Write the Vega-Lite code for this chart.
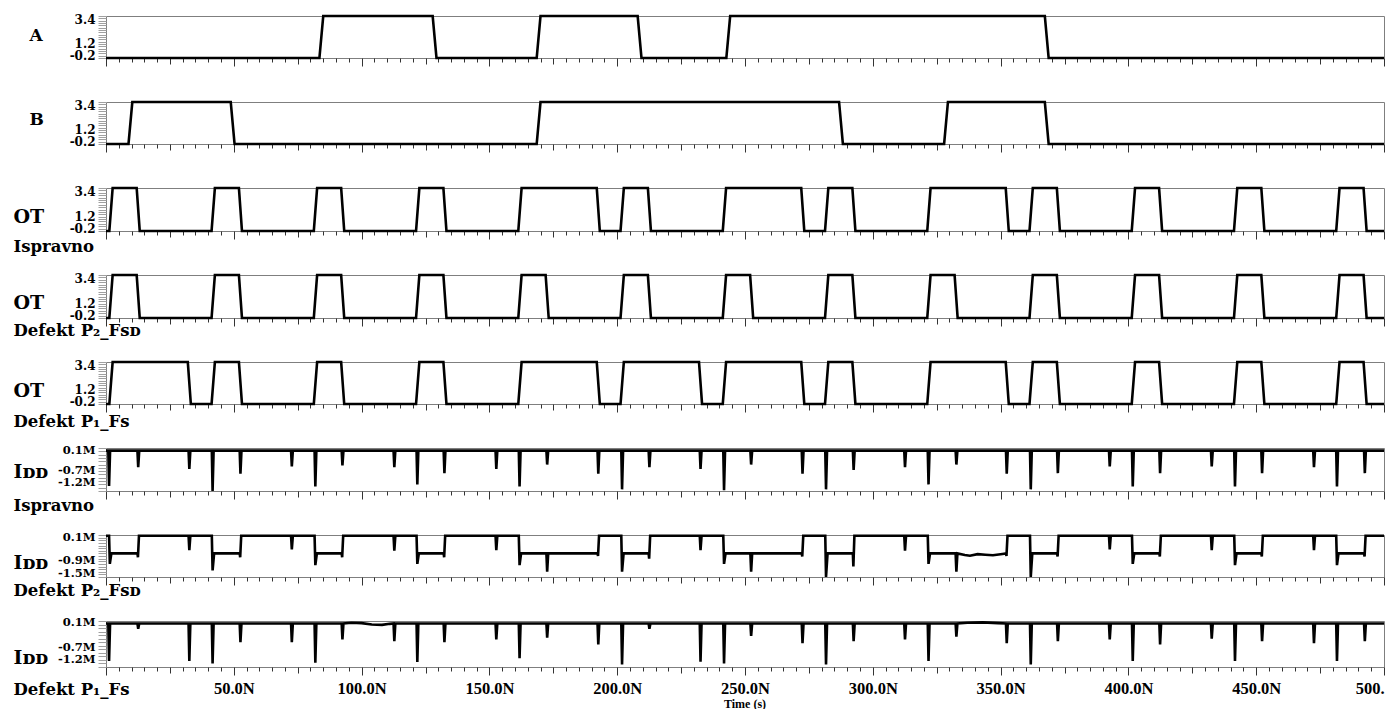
{
  "$schema": "https://vega.github.io/schema/vega-lite/v6.json",
  "padding": {"left": 12, "top": 10, "right": 5, "bottom": 0},
  "bounds": "flush",
  "spacing": 44,
  "title": {"text": "Time (s)", "orient": "bottom", "anchor": "middle", "frame": "group", "font": "Liberation Serif", "fontWeight": "bold", "fontSize": 12, "offset": 1, "color": "#000"},
  "datasets": {
    "A": [{"t":0,"v":-0.2},{"t":83.5,"v":-0.2},{"t":85,"v":3.4},{"t":127.8,"v":3.4},{"t":129.3,"v":-0.2},{"t":168.5,"v":-0.2},{"t":170,"v":3.4},{"t":208,"v":3.4},{"t":209.5,"v":-0.2},{"t":242.7,"v":-0.2},{"t":244.2,"v":3.4},{"t":367.3,"v":3.4},{"t":368.8,"v":-0.2},{"t":500,"v":-0.2}],
    "B": [{"t":0,"v":-0.2},{"t":8.8,"v":-0.2},{"t":10.3,"v":3.4},{"t":48.8,"v":3.4},{"t":50.3,"v":-0.2},{"t":168.5,"v":-0.2},{"t":170,"v":3.4},{"t":286.8,"v":3.4},{"t":288.3,"v":-0.2},{"t":327.9,"v":-0.2},{"t":329.4,"v":3.4},{"t":367.3,"v":3.4},{"t":368.8,"v":-0.2},{"t":500,"v":-0.2}],
    "OT1": [{"t":0,"v":-0.2},{"t":1.3,"v":-0.2},{"t":2.6,"v":3.4},{"t":12,"v":3.4},{"t":13.2,"v":-0.2},
      {"t":41.3,"v":-0.2},{"t":42.6,"v":3.4},{"t":52,"v":3.4},{"t":53.2,"v":-0.2},
      {"t":81.3,"v":-0.2},{"t":82.6,"v":3.4},{"t":92,"v":3.4},{"t":93.2,"v":-0.2},
      {"t":121.3,"v":-0.2},{"t":122.6,"v":3.4},{"t":132,"v":3.4},{"t":133.2,"v":-0.2},
      {"t":161.3,"v":-0.2},{"t":162.6,"v":3.4},{"t":192,"v":3.4},{"t":193.2,"v":-0.2},
      {"t":201.3,"v":-0.2},{"t":202.6,"v":3.4},{"t":212,"v":3.4},{"t":213.2,"v":-0.2},
      {"t":241.3,"v":-0.2},{"t":242.6,"v":3.4},{"t":272,"v":3.4},{"t":273.2,"v":-0.2},
      {"t":281.3,"v":-0.2},{"t":282.6,"v":3.4},{"t":292,"v":3.4},{"t":293.2,"v":-0.2},
      {"t":321.3,"v":-0.2},{"t":322.6,"v":3.4},{"t":352,"v":3.4},{"t":353.2,"v":-0.2},
      {"t":361.3,"v":-0.2},{"t":362.6,"v":3.4},{"t":372,"v":3.4},{"t":373.2,"v":-0.2},
      {"t":401.3,"v":-0.2},{"t":402.6,"v":3.4},{"t":412,"v":3.4},{"t":413.2,"v":-0.2},
      {"t":441.3,"v":-0.2},{"t":442.6,"v":3.4},{"t":452,"v":3.4},{"t":453.2,"v":-0.2},
      {"t":481.3,"v":-0.2},{"t":482.6,"v":3.4},{"t":492,"v":3.4},{"t":493.2,"v":-0.2},
      {"t":500,"v":-0.2}],
    "OT2": [{"t":0,"v":-0.2},{"t":1.3,"v":-0.2},{"t":2.6,"v":3.4},{"t":12,"v":3.4},{"t":13.2,"v":-0.2},
      {"t":41.3,"v":-0.2},{"t":42.6,"v":3.4},{"t":52,"v":3.4},{"t":53.2,"v":-0.2},
      {"t":81.3,"v":-0.2},{"t":82.6,"v":3.4},{"t":92,"v":3.4},{"t":93.2,"v":-0.2},
      {"t":121.3,"v":-0.2},{"t":122.6,"v":3.4},{"t":132,"v":3.4},{"t":133.2,"v":-0.2},
      {"t":161.3,"v":-0.2},{"t":162.6,"v":3.4},{"t":172,"v":3.4},{"t":173.2,"v":-0.2},
      {"t":201.3,"v":-0.2},{"t":202.6,"v":3.4},{"t":212,"v":3.4},{"t":213.2,"v":-0.2},
      {"t":241.3,"v":-0.2},{"t":242.6,"v":3.4},{"t":252,"v":3.4},{"t":253.2,"v":-0.2},
      {"t":281.3,"v":-0.2},{"t":282.6,"v":3.4},{"t":292,"v":3.4},{"t":293.2,"v":-0.2},
      {"t":321.3,"v":-0.2},{"t":322.6,"v":3.4},{"t":332,"v":3.4},{"t":333.2,"v":-0.2},
      {"t":361.3,"v":-0.2},{"t":362.6,"v":3.4},{"t":372,"v":3.4},{"t":373.2,"v":-0.2},
      {"t":401.3,"v":-0.2},{"t":402.6,"v":3.4},{"t":412,"v":3.4},{"t":413.2,"v":-0.2},
      {"t":441.3,"v":-0.2},{"t":442.6,"v":3.4},{"t":452,"v":3.4},{"t":453.2,"v":-0.2},
      {"t":481.3,"v":-0.2},{"t":482.6,"v":3.4},{"t":492,"v":3.4},{"t":493.2,"v":-0.2},
      {"t":500,"v":-0.2}],
    "OT3": [{"t":0,"v":-0.2},{"t":1.3,"v":-0.2},{"t":2.6,"v":3.4},{"t":32,"v":3.4},{"t":33.2,"v":-0.2},
      {"t":41.3,"v":-0.2},{"t":42.6,"v":3.4},{"t":52,"v":3.4},{"t":53.2,"v":-0.2},
      {"t":81.3,"v":-0.2},{"t":82.6,"v":3.4},{"t":92,"v":3.4},{"t":93.2,"v":-0.2},
      {"t":121.3,"v":-0.2},{"t":122.6,"v":3.4},{"t":132,"v":3.4},{"t":133.2,"v":-0.2},
      {"t":161.3,"v":-0.2},{"t":162.6,"v":3.4},{"t":192,"v":3.4},{"t":193.2,"v":-0.2},
      {"t":201.3,"v":-0.2},{"t":202.6,"v":3.4},{"t":232,"v":3.4},{"t":233.2,"v":-0.2},
      {"t":241.3,"v":-0.2},{"t":242.6,"v":3.4},{"t":272,"v":3.4},{"t":273.2,"v":-0.2},
      {"t":281.3,"v":-0.2},{"t":282.6,"v":3.4},{"t":292,"v":3.4},{"t":293.2,"v":-0.2},
      {"t":321.3,"v":-0.2},{"t":322.6,"v":3.4},{"t":352,"v":3.4},{"t":353.2,"v":-0.2},
      {"t":361.3,"v":-0.2},{"t":362.6,"v":3.4},{"t":372,"v":3.4},{"t":373.2,"v":-0.2},
      {"t":401.3,"v":-0.2},{"t":402.6,"v":3.4},{"t":412,"v":3.4},{"t":413.2,"v":-0.2},
      {"t":441.3,"v":-0.2},{"t":442.6,"v":3.4},{"t":452,"v":3.4},{"t":453.2,"v":-0.2},
      {"t":481.3,"v":-0.2},{"t":482.6,"v":3.4},{"t":492,"v":3.4},{"t":493.2,"v":-0.2},
      {"t":500,"v":-0.2}],
    "I1": [{"t":0,"v":0.02},
      {"t":0.9,"v":0.02},{"t":1.2,"v":-1.05},{"t":1.6,"v":0.02},
      {"t":12.3,"v":0.02},{"t":12.6,"v":-0.48},{"t":13,"v":0.02},
      {"t":32.3,"v":0.02},{"t":32.6,"v":-0.53},{"t":33,"v":0.02},
      {"t":41.4,"v":0.02},{"t":41.7,"v":-1.2},{"t":42.1,"v":0.02},
      {"t":52.3,"v":0.02},{"t":52.6,"v":-0.68},{"t":53,"v":0.02},
      {"t":72.4,"v":0.02},{"t":72.7,"v":-0.46},{"t":73.1,"v":0.02},
      {"t":81.6,"v":0.02},{"t":81.9,"v":-1.06},{"t":82.3,"v":0.02},
      {"t":92.2,"v":0.02},{"t":92.5,"v":-0.43},{"t":92.9,"v":0.02},
      {"t":112.5,"v":0.02},{"t":112.8,"v":-0.48},{"t":113.2,"v":0.02},
      {"t":121.5,"v":0.02},{"t":121.8,"v":-1.0},{"t":122.2,"v":0.02},
      {"t":132.1,"v":0.02},{"t":132.4,"v":-0.66},{"t":132.8,"v":0.02},
      {"t":152.4,"v":0.02},{"t":152.7,"v":-0.53},{"t":153.1,"v":0.02},
      {"t":161.5,"v":0.02},{"t":161.8,"v":-1.06},{"t":162.2,"v":0.02},
      {"t":172.3,"v":0.02},{"t":172.6,"v":-0.4},{"t":173,"v":0.02},
      {"t":192.3,"v":0.02},{"t":192.6,"v":-0.68},{"t":193,"v":0.02},
      {"t":201.6,"v":0.02},{"t":201.9,"v":-1.15},{"t":202.3,"v":0.02},
      {"t":212.3,"v":0.02},{"t":212.6,"v":-0.48},{"t":213,"v":0.02},
      {"t":232.3,"v":0.02},{"t":232.6,"v":-0.53},{"t":233,"v":0.02},
      {"t":241.5,"v":0.02},{"t":241.8,"v":-1.18},{"t":242.2,"v":0.02},
      {"t":252.1,"v":0.02},{"t":252.4,"v":-0.4},{"t":252.8,"v":0.02},
      {"t":272.2,"v":0.02},{"t":272.5,"v":-0.68},{"t":272.9,"v":0.02},
      {"t":281.4,"v":0.02},{"t":281.7,"v":-1.15},{"t":282.1,"v":0.02},
      {"t":292.2,"v":0.02},{"t":292.5,"v":-0.56},{"t":292.9,"v":0.02},
      {"t":312.3,"v":0.02},{"t":312.6,"v":-0.48},{"t":313,"v":0.02},
      {"t":321.5,"v":0.02},{"t":321.8,"v":-1.0},{"t":322.2,"v":0.02},
      {"t":332.4,"v":0.02},{"t":332.7,"v":-0.4},{"t":333.1,"v":0.02},
      {"t":352.1,"v":0.02},{"t":352.4,"v":-0.68},{"t":352.8,"v":0.02},
      {"t":361.5,"v":0.02},{"t":361.8,"v":-1.15},{"t":362.2,"v":0.02},
      {"t":372.1,"v":0.02},{"t":372.4,"v":-0.66},{"t":372.8,"v":0.02},
      {"t":392.4,"v":0.02},{"t":392.7,"v":-0.46},{"t":393.1,"v":0.02},
      {"t":401.4,"v":0.02},{"t":401.7,"v":-1.06},{"t":402.1,"v":0.02},
      {"t":412.1,"v":0.02},{"t":412.4,"v":-0.66},{"t":412.8,"v":0.02},
      {"t":432.3,"v":0.02},{"t":432.6,"v":-0.46},{"t":433,"v":0.02},
      {"t":441.4,"v":0.02},{"t":441.7,"v":-1.06},{"t":442.1,"v":0.02},
      {"t":452,"v":0.02},{"t":452.3,"v":-0.66},{"t":452.7,"v":0.02},
      {"t":472.3,"v":0.02},{"t":472.6,"v":-0.48},{"t":473,"v":0.02},
      {"t":481.3,"v":0.02},{"t":481.6,"v":-1.06},{"t":482,"v":0.02},
      {"t":492.2,"v":0.02},{"t":492.5,"v":-0.66},{"t":492.9,"v":0.02},
      {"t":500,"v":0.02}],
    "I2": [{"t":0,"v":0.07},
      {"t":1.2,"v":0.07},{"t":1.5,"v":-1.0},{"t":2.1,"v":-0.6},
      {"t":12.3,"v":-0.6},{"t":12.5,"v":-0.75},{"t":12.9,"v":0.07},
      {"t":32.3,"v":0.07},{"t":32.6,"v":-0.48},{"t":33,"v":0.07},
      {"t":41.4,"v":0.07},{"t":41.7,"v":-1.25},{"t":42.3,"v":-0.6},
      {"t":52.3,"v":-0.6},{"t":52.5,"v":-0.75},{"t":52.9,"v":0.07},
      {"t":72.4,"v":0.07},{"t":72.7,"v":-0.45},{"t":73.1,"v":0.07},
      {"t":81.6,"v":0.07},{"t":81.9,"v":-1.05},{"t":82.5,"v":-0.6},
      {"t":92.2,"v":-0.6},{"t":92.4,"v":-0.75},{"t":92.8,"v":0.07},
      {"t":112.5,"v":0.07},{"t":112.8,"v":-0.5},{"t":113.2,"v":0.07},
      {"t":121.5,"v":0.07},{"t":121.8,"v":-1.0},{"t":122.4,"v":-0.6},
      {"t":132.1,"v":-0.6},{"t":132.3,"v":-0.75},{"t":132.7,"v":0.07},
      {"t":152.4,"v":0.07},{"t":152.7,"v":-0.48},{"t":153.1,"v":0.07},
      {"t":161.5,"v":0.07},{"t":161.8,"v":-1.05},{"t":162.4,"v":-0.6},
      {"t":172.3,"v":-0.6},{"t":172.6,"v":-1.3},{"t":173,"v":-0.6},
      {"t":192.3,"v":-0.6},{"t":192.5,"v":-0.7},{"t":192.9,"v":0.07},
      {"t":201.6,"v":0.07},{"t":201.9,"v":-1.3},{"t":202.5,"v":-0.6},
      {"t":212.3,"v":-0.6},{"t":212.5,"v":-0.8},{"t":212.9,"v":0.07},
      {"t":232.3,"v":0.07},{"t":232.6,"v":-0.48},{"t":233,"v":0.07},
      {"t":241.5,"v":0.07},{"t":241.8,"v":-1.0},{"t":242.4,"v":-0.6},
      {"t":252.1,"v":-0.6},{"t":252.4,"v":-1.3},{"t":252.8,"v":-0.6},
      {"t":272.2,"v":-0.6},{"t":272.4,"v":-0.72},{"t":272.8,"v":0.07},
      {"t":281.4,"v":0.07},{"t":281.7,"v":-1.5},{"t":282.3,"v":-0.6},
      {"t":292.2,"v":-0.6},{"t":292.4,"v":-1.1},{"t":292.8,"v":0.07},
      {"t":312.3,"v":0.07},{"t":312.6,"v":-0.5},{"t":313,"v":0.07},
      {"t":321.5,"v":0.07},{"t":321.8,"v":-1.0},{"t":322.4,"v":-0.6},
      {"t":332.4,"v":-0.6},{"t":332.7,"v":-1.3},{"t":333.1,"v":-0.6},{"t":336,"v":-0.66},{"t":338,"v":-0.69},{"t":341,"v":-0.63},{"t":344,"v":-0.65},{"t":347,"v":-0.67},{"t":350,"v":-0.63},{"t":352.1,"v":-0.6},
      {"t":352.3,"v":-0.7},{"t":352.7,"v":0.07},
      {"t":361.5,"v":0.07},{"t":361.8,"v":-1.5},{"t":362.4,"v":-0.6},
      {"t":372.1,"v":-0.6},{"t":372.3,"v":-0.72},{"t":372.7,"v":0.07},
      {"t":392.4,"v":0.07},{"t":392.7,"v":-0.45},{"t":393.1,"v":0.07},
      {"t":401.4,"v":0.07},{"t":401.7,"v":-1.0},{"t":402.3,"v":-0.6},
      {"t":412.1,"v":-0.6},{"t":412.3,"v":-0.72},{"t":412.7,"v":0.07},
      {"t":432.3,"v":0.07},{"t":432.6,"v":-0.48},{"t":433,"v":0.07},
      {"t":441.4,"v":0.07},{"t":441.7,"v":-1.05},{"t":442.3,"v":-0.6},
      {"t":452,"v":-0.6},{"t":452.2,"v":-0.72},{"t":452.6,"v":0.07},
      {"t":472.3,"v":0.07},{"t":472.6,"v":-0.48},{"t":473,"v":0.07},
      {"t":481.3,"v":0.07},{"t":481.6,"v":-1.05},{"t":482.2,"v":-0.6},
      {"t":492.2,"v":-0.6},{"t":492.4,"v":-0.72},{"t":492.8,"v":0.07},
      {"t":500,"v":0.07}],
    "I3": [{"t":0,"v":0.03},
      {"t":0.9,"v":0.03},{"t":1.2,"v":-1.03},{"t":1.6,"v":0.03},
      {"t":12.3,"v":0.03},{"t":12.6,"v":-0.12},{"t":13,"v":0.03},
      {"t":32.3,"v":0.03},{"t":32.6,"v":-1.03},{"t":33,"v":0.03},
      {"t":41.4,"v":0.03},{"t":41.7,"v":-1.1},{"t":42.1,"v":0.03},
      {"t":52.3,"v":0.03},{"t":52.6,"v":-0.5},{"t":53,"v":0.03},
      {"t":72.4,"v":0.03},{"t":72.7,"v":-0.5},{"t":73.1,"v":0.03},
      {"t":81.6,"v":0.03},{"t":81.9,"v":-1.08},{"t":82.3,"v":0.03},
      {"t":92.2,"v":0.03},{"t":92.5,"v":-0.42},{"t":92.9,"v":0.03},
      {"t":96,"v":0.05},{"t":100,"v":0.04},{"t":104,"v":0.0},{"t":108,"v":-0.01},{"t":111,"v":0.02},
      {"t":112.5,"v":0.03},{"t":112.8,"v":-0.47},{"t":113.2,"v":0.03},
      {"t":121.5,"v":0.03},{"t":121.8,"v":-1.06},{"t":122.2,"v":0.03},
      {"t":132.1,"v":0.03},{"t":132.4,"v":-0.5},{"t":132.8,"v":0.03},
      {"t":152.4,"v":0.03},{"t":152.7,"v":-0.42},{"t":153.1,"v":0.03},
      {"t":161.5,"v":0.03},{"t":161.8,"v":-0.95},{"t":162.2,"v":0.03},
      {"t":172.3,"v":0.03},{"t":172.6,"v":-0.37},{"t":173,"v":0.03},
      {"t":192.3,"v":0.03},{"t":192.6,"v":-0.56},{"t":193,"v":0.03},
      {"t":201.6,"v":0.03},{"t":201.9,"v":-1.13},{"t":202.3,"v":0.03},
      {"t":212.3,"v":0.03},{"t":212.6,"v":-0.12},{"t":213,"v":0.03},
      {"t":232.3,"v":0.03},{"t":232.6,"v":-1.05},{"t":233,"v":0.03},
      {"t":241.5,"v":0.03},{"t":241.8,"v":-1.1},{"t":242.2,"v":0.03},
      {"t":252.1,"v":0.03},{"t":252.4,"v":-0.32},{"t":252.8,"v":0.03},
      {"t":272.2,"v":0.03},{"t":272.5,"v":-0.53},{"t":272.9,"v":0.03},
      {"t":281.4,"v":0.03},{"t":281.7,"v":-1.13},{"t":282.1,"v":0.03},
      {"t":292.2,"v":0.03},{"t":292.5,"v":-0.47},{"t":292.9,"v":0.03},
      {"t":312.3,"v":0.03},{"t":312.6,"v":-0.42},{"t":313,"v":0.03},
      {"t":321.5,"v":0.03},{"t":321.8,"v":-1.03},{"t":322.2,"v":0.03},
      {"t":332.4,"v":0.03},{"t":332.7,"v":-0.34},{"t":333.1,"v":0.03},
      {"t":337,"v":0.05},{"t":343,"v":0.06},{"t":349,"v":0.04},
      {"t":352.1,"v":0.03},{"t":352.4,"v":-0.53},{"t":352.8,"v":0.03},
      {"t":361.5,"v":0.03},{"t":361.8,"v":-1.13},{"t":362.2,"v":0.03},
      {"t":372.1,"v":0.03},{"t":372.4,"v":-0.47},{"t":372.8,"v":0.03},
      {"t":392.4,"v":0.03},{"t":392.7,"v":-0.42},{"t":393.1,"v":0.03},
      {"t":401.4,"v":0.03},{"t":401.7,"v":-1.03},{"t":402.1,"v":0.03},
      {"t":412.1,"v":0.03},{"t":412.4,"v":-0.56},{"t":412.8,"v":0.03},
      {"t":432.3,"v":0.03},{"t":432.6,"v":-0.4},{"t":433,"v":0.03},
      {"t":441.4,"v":0.03},{"t":441.7,"v":-1.03},{"t":442.1,"v":0.03},
      {"t":452,"v":0.03},{"t":452.3,"v":-0.47},{"t":452.7,"v":0.03},
      {"t":472.3,"v":0.03},{"t":472.6,"v":-0.53},{"t":473,"v":0.03},
      {"t":481.3,"v":0.03},{"t":481.6,"v":-1.03},{"t":482,"v":0.03},
      {"t":492.2,"v":0.03},{"t":492.5,"v":-0.47},{"t":492.9,"v":0.03},
      {"t":500,"v":0.03}]
  },
  "vconcat": [
    {
      "width": 1278, "height": 42,
      "data": {"name": "A"},
      "mark": {"type": "line", "color": "#000", "strokeWidth": 2.6},
      "encoding": {
        "x": {"field": "t", "type": "quantitative", "scale": {"domain": [0, 500], "nice": false, "zero": false},
          "axis": {"values": [0,5,10,15,20,25,30,35,40,45,50,55,60,65,70,75,80,85,90,95,100,105,110,115,120,125,130,135,140,145,150,155,160,165,170,175,180,185,190,195,200,205,210,215,220,225,230,235,240,245,250,255,260,265,270,275,280,285,290,295,300,305,310,315,320,325,330,335,340,345,350,355,360,365,370,375,380,385,390,395,400,405,410,415,420,425,430,435,440,445,450,455,460,465,470,475,480,485,490,495,500],
            "labels": false, "tickSize": {"condition": [{"test": "datum.value % 50 === 0", "value": 8}, {"test": "datum.value % 25 === 0", "value": 6}], "value": 4}, "title": null}},
        "y": {"field": "v", "type": "quantitative", "scale": {"domain": [-0.2, 3.4], "nice": false, "zero": false},
          "axis": {"values": [-0.2,0,0.2,0.4,0.6,0.8,1,1.2,1.4,1.6,1.8,2,2.2,2.4,2.6,2.8,3,3.2,3.4],
            "labelExpr": "datum.value > 3.3 ? '3.4' : abs(datum.value - 1.2) < 0.01 ? '1.2' : datum.value < -0.1 ? '-0.2' : ''",
            "labelOffset": {"condition": [{"test": "datum.value > 3.3", "value": 3}, {"test": "datum.value < -0.1", "value": -3}], "value": 2},
            "title": "A", "titleX": -77, "titleY": 19, "titleFontSize": 17}}
      }
    },
    {
      "width": 1278, "height": 42,
      "data": {"name": "B"},
      "mark": {"type": "line", "color": "#000", "strokeWidth": 2.6},
      "encoding": {
        "x": {"field": "t", "type": "quantitative", "scale": {"domain": [0, 500], "nice": false, "zero": false},
          "axis": {"values": [0,5,10,15,20,25,30,35,40,45,50,55,60,65,70,75,80,85,90,95,100,105,110,115,120,125,130,135,140,145,150,155,160,165,170,175,180,185,190,195,200,205,210,215,220,225,230,235,240,245,250,255,260,265,270,275,280,285,290,295,300,305,310,315,320,325,330,335,340,345,350,355,360,365,370,375,380,385,390,395,400,405,410,415,420,425,430,435,440,445,450,455,460,465,470,475,480,485,490,495,500],
            "labels": false, "tickSize": {"condition": [{"test": "datum.value % 50 === 0", "value": 8}, {"test": "datum.value % 25 === 0", "value": 6}], "value": 4}, "title": null}},
        "y": {"field": "v", "type": "quantitative", "scale": {"domain": [-0.2, 3.4], "nice": false, "zero": false},
          "axis": {"values": [-0.2,0,0.2,0.4,0.6,0.8,1,1.2,1.4,1.6,1.8,2,2.2,2.4,2.6,2.8,3,3.2,3.4],
            "labelExpr": "datum.value > 3.3 ? '3.4' : abs(datum.value - 1.2) < 0.01 ? '1.2' : datum.value < -0.1 ? '-0.2' : ''",
            "labelOffset": {"condition": [{"test": "datum.value > 3.3", "value": 3}, {"test": "datum.value < -0.1", "value": -3}], "value": 2},
            "title": "B", "titleX": -77, "titleY": 17, "titleFontSize": 17}}
      }
    },
    {
      "width": 1278, "height": 43,
      "data": {"name": "OT1"},
      "mark": {"type": "line", "color": "#000", "strokeWidth": 2.6},
      "encoding": {
        "x": {"field": "t", "type": "quantitative", "scale": {"domain": [0, 500], "nice": false, "zero": false},
          "axis": {"values": [0,5,10,15,20,25,30,35,40,45,50,55,60,65,70,75,80,85,90,95,100,105,110,115,120,125,130,135,140,145,150,155,160,165,170,175,180,185,190,195,200,205,210,215,220,225,230,235,240,245,250,255,260,265,270,275,280,285,290,295,300,305,310,315,320,325,330,335,340,345,350,355,360,365,370,375,380,385,390,395,400,405,410,415,420,425,430,435,440,445,450,455,460,465,470,475,480,485,490,495,500],
            "labels": false, "tickSize": {"condition": [{"test": "datum.value % 50 === 0", "value": 8}, {"test": "datum.value % 25 === 0", "value": 6}], "value": 4},
            "title": "Ispravno", "titleY": 20}},
        "y": {"field": "v", "type": "quantitative", "scale": {"domain": [-0.2, 3.4], "nice": false, "zero": false},
          "axis": {"values": [-0.2,0,0.2,0.4,0.6,0.8,1,1.2,1.4,1.6,1.8,2,2.2,2.4,2.6,2.8,3,3.2,3.4],
            "labelExpr": "datum.value > 3.3 ? '3.4' : abs(datum.value - 1.2) < 0.01 ? '1.2' : datum.value < -0.1 ? '-0.2' : ''",
            "labelOffset": {"condition": [{"test": "datum.value > 3.3", "value": 3}, {"test": "datum.value < -0.1", "value": -3}], "value": 2},
            "title": "OT", "titleX": -93, "titleY": 28}}
      }
    },
    {
      "width": 1278, "height": 43,
      "data": {"name": "OT2"},
      "mark": {"type": "line", "color": "#000", "strokeWidth": 2.6},
      "encoding": {
        "x": {"field": "t", "type": "quantitative", "scale": {"domain": [0, 500], "nice": false, "zero": false},
          "axis": {"values": [0,5,10,15,20,25,30,35,40,45,50,55,60,65,70,75,80,85,90,95,100,105,110,115,120,125,130,135,140,145,150,155,160,165,170,175,180,185,190,195,200,205,210,215,220,225,230,235,240,245,250,255,260,265,270,275,280,285,290,295,300,305,310,315,320,325,330,335,340,345,350,355,360,365,370,375,380,385,390,395,400,405,410,415,420,425,430,435,440,445,450,455,460,465,470,475,480,485,490,495,500],
            "labels": false, "tickSize": {"condition": [{"test": "datum.value % 50 === 0", "value": 8}, {"test": "datum.value % 25 === 0", "value": 6}], "value": 4},
            "title": "Defekt P₂_Fꜱᴅ", "titleY": 17}},
        "y": {"field": "v", "type": "quantitative", "scale": {"domain": [-0.2, 3.4], "nice": false, "zero": false},
          "axis": {"values": [-0.2,0,0.2,0.4,0.6,0.8,1,1.2,1.4,1.6,1.8,2,2.2,2.4,2.6,2.8,3,3.2,3.4],
            "labelExpr": "datum.value > 3.3 ? '3.4' : abs(datum.value - 1.2) < 0.01 ? '1.2' : datum.value < -0.1 ? '-0.2' : ''",
            "labelOffset": {"condition": [{"test": "datum.value > 3.3", "value": 3}, {"test": "datum.value < -0.1", "value": -3}], "value": 2},
            "title": "OT", "titleX": -93, "titleY": 27}}
      }
    },
    {
      "width": 1278, "height": 42,
      "data": {"name": "OT3"},
      "mark": {"type": "line", "color": "#000", "strokeWidth": 2.6},
      "encoding": {
        "x": {"field": "t", "type": "quantitative", "scale": {"domain": [0, 500], "nice": false, "zero": false},
          "axis": {"values": [0,5,10,15,20,25,30,35,40,45,50,55,60,65,70,75,80,85,90,95,100,105,110,115,120,125,130,135,140,145,150,155,160,165,170,175,180,185,190,195,200,205,210,215,220,225,230,235,240,245,250,255,260,265,270,275,280,285,290,295,300,305,310,315,320,325,330,335,340,345,350,355,360,365,370,375,380,385,390,395,400,405,410,415,420,425,430,435,440,445,450,455,460,465,470,475,480,485,490,495,500],
            "labels": false, "tickSize": {"condition": [{"test": "datum.value % 50 === 0", "value": 8}, {"test": "datum.value % 25 === 0", "value": 6}], "value": 4},
            "title": "Defekt P₁_Fꜱ", "titleY": 22}},
        "y": {"field": "v", "type": "quantitative", "scale": {"domain": [-0.2, 3.4], "nice": false, "zero": false},
          "axis": {"values": [-0.2,0,0.2,0.4,0.6,0.8,1,1.2,1.4,1.6,1.8,2,2.2,2.4,2.6,2.8,3,3.2,3.4],
            "labelExpr": "datum.value > 3.3 ? '3.4' : abs(datum.value - 1.2) < 0.01 ? '1.2' : datum.value < -0.1 ? '-0.2' : ''",
            "labelOffset": {"condition": [{"test": "datum.value > 3.3", "value": 3}, {"test": "datum.value < -0.1", "value": -3}], "value": 2},
            "title": "OT", "titleX": -93, "titleY": 28}}
      }
    },
    {
      "width": 1278, "height": 43,
      "data": {"name": "I1"},
      "mark": {"type": "line", "color": "#000", "strokeWidth": 2.6},
      "encoding": {
        "x": {"field": "t", "type": "quantitative", "scale": {"domain": [0, 500], "nice": false, "zero": false},
          "axis": {"values": [0,5,10,15,20,25,30,35,40,45,50,55,60,65,70,75,80,85,90,95,100,105,110,115,120,125,130,135,140,145,150,155,160,165,170,175,180,185,190,195,200,205,210,215,220,225,230,235,240,245,250,255,260,265,270,275,280,285,290,295,300,305,310,315,320,325,330,335,340,345,350,355,360,365,370,375,380,385,390,395,400,405,410,415,420,425,430,435,440,445,450,455,460,465,470,475,480,485,490,495,500],
            "labels": false, "tickSize": {"condition": [{"test": "datum.value % 50 === 0", "value": 8}, {"test": "datum.value % 25 === 0", "value": 6}], "value": 4},
            "title": "Ispravno", "titleY": 19}},
        "y": {"field": "v", "type": "quantitative", "scale": {"domain": [-1.2, 0.1], "nice": false, "zero": false},
          "axis": {"values": [-1.2,-1.1,-1,-0.9,-0.8,-0.7,-0.6,-0.5,-0.4,-0.3,-0.2,-0.1,0,0.1],
            "labelFontSize": 11.5,
            "labelExpr": "datum.value > 0.05 ? '0.1M' : abs(datum.value + 0.7) < 0.01 ? '-0.7M' : datum.value < -1.15 ? '-1.2M' : ''",
            "labelOffset": {"condition": [{"test": "datum.value > 0.05", "value": 2}, {"test": "abs(datum.value + 0.7) < 0.01", "value": -4}, {"test": "datum.value < -1.15", "value": -9}], "value": 0},
            "title": "Iᴅᴅ", "titleX": -93, "titleY": 23}}
      }
    },
    {
      "width": 1278, "height": 42,
      "data": {"name": "I2"},
      "mark": {"type": "line", "color": "#000", "strokeWidth": 2.6},
      "encoding": {
        "x": {"field": "t", "type": "quantitative", "scale": {"domain": [0, 500], "nice": false, "zero": false},
          "axis": {"values": [0,5,10,15,20,25,30,35,40,45,50,55,60,65,70,75,80,85,90,95,100,105,110,115,120,125,130,135,140,145,150,155,160,165,170,175,180,185,190,195,200,205,210,215,220,225,230,235,240,245,250,255,260,265,270,275,280,285,290,295,300,305,310,315,320,325,330,335,340,345,350,355,360,365,370,375,380,385,390,395,400,405,410,415,420,425,430,435,440,445,450,455,460,465,470,475,480,485,490,495,500],
            "labels": false, "tickSize": {"condition": [{"test": "datum.value % 50 === 0", "value": 8}, {"test": "datum.value % 25 === 0", "value": 6}], "value": 4},
            "title": "Defekt P₂_Fꜱᴅ", "titleY": 18}},
        "y": {"field": "v", "type": "quantitative", "scale": {"domain": [-1.5, 0.1], "nice": false, "zero": false},
          "axis": {"values": [-1.5,-1.4,-1.3,-1.2,-1.1,-1,-0.9,-0.8,-0.7,-0.6,-0.5,-0.4,-0.3,-0.2,-0.1,0,0.1],
            "labelFontSize": 11.5,
            "labelExpr": "datum.value > 0.05 ? '0.1M' : abs(datum.value + 0.9) < 0.01 ? '-0.9M' : datum.value < -1.45 ? '-1.5M' : ''",
            "labelOffset": {"condition": [{"test": "datum.value > 0.05", "value": 2}, {"test": "abs(datum.value + 0.9) < 0.01", "value": -1}, {"test": "datum.value < -1.45", "value": -4}], "value": 0},
            "title": "Iᴅᴅ", "titleX": -93, "titleY": 27}}
      }
    },
    {
      "width": 1278, "height": 46,
      "data": {"name": "I3"},
      "mark": {"type": "line", "color": "#000", "strokeWidth": 2.6},
      "encoding": {
        "x": {"field": "t", "type": "quantitative", "scale": {"domain": [0, 500], "nice": false, "zero": false},
          "axis": {"values": [0,5,10,15,20,25,30,35,40,45,50,55,60,65,70,75,80,85,90,95,100,105,110,115,120,125,130,135,140,145,150,155,160,165,170,175,180,185,190,195,200,205,210,215,220,225,230,235,240,245,250,255,260,265,270,275,280,285,290,295,300,305,310,315,320,325,330,335,340,345,350,355,360,365,370,375,380,385,390,395,400,405,410,415,420,425,430,435,440,445,450,455,460,465,470,475,480,485,490,495,500],
            "labels": true,
            "labelExpr": "datum.value % 50 === 0 && datum.value > 0 ? (datum.value >= 500 ? '500.' : format(datum.value, '.1f') + 'N') : ''",
            "labelAlign": {"condition": {"test": "datum.value >= 500", "value": "right"}, "value": "center"},
            "labelBaseline": "middle", "labelPadding": 13, "labelOverlap": false, "labelFlush": false, "labelBound": false,
            "tickSize": {"condition": [{"test": "datum.value % 50 === 0", "value": 8}, {"test": "datum.value % 25 === 0", "value": 6}], "value": 4},
            "title": "Defekt P₁_Fꜱ", "titleY": 27}},
        "y": {"field": "v", "type": "quantitative", "scale": {"domain": [-1.2, 0.1], "nice": false, "zero": false},
          "axis": {"values": [-1.2,-1.1,-1,-0.9,-0.8,-0.7,-0.6,-0.5,-0.4,-0.3,-0.2,-0.1,0,0.1],
            "labelFontSize": 11.5,
            "labelExpr": "datum.value > 0.05 ? '0.1M' : abs(datum.value + 0.7) < 0.01 ? '-0.7M' : datum.value < -1.15 ? '-1.2M' : ''",
            "labelOffset": {"condition": [{"test": "datum.value > 0.05", "value": 1}, {"test": "abs(datum.value + 0.7) < 0.01", "value": -2}, {"test": "datum.value < -1.15", "value": -8}], "value": 0},
            "title": "Iᴅᴅ", "titleX": -93, "titleY": 36}}
      }
    }
  ],
  "config": {
    "view": {"stroke": "#7f7f7f", "strokeWidth": 1},
    "axis": {"domain": false, "grid": false, "labelColor": "#000", "titleColor": "#000"},
    "axisY": {"tickColor": "#a0a0a0", "tickSize": 8, "tickWidth": 1, "labelFont": "DejaVu Serif", "labelFontWeight": "bold", "labelFontSize": 12, "labelPadding": 3, "labelOverlap": false, "labelFlush": false, "labelBaseline": "middle", "titleAngle": 0, "titleAlign": "left", "titleBaseline": "middle", "titleFont": "DejaVu Serif", "titleFontWeight": "bold", "titleFontSize": 19},
    "axisX": {"tickColor": "#333333", "tickWidth": 1, "labelFont": "Liberation Serif", "labelFontWeight": "bold", "labelFontSize": 16.5, "titleFont": "DejaVu Serif", "titleFontWeight": "bold", "titleFontSize": 16.5, "titleAlign": "left", "titleBaseline": "alphabetic", "titleX": -93}
  }
}
